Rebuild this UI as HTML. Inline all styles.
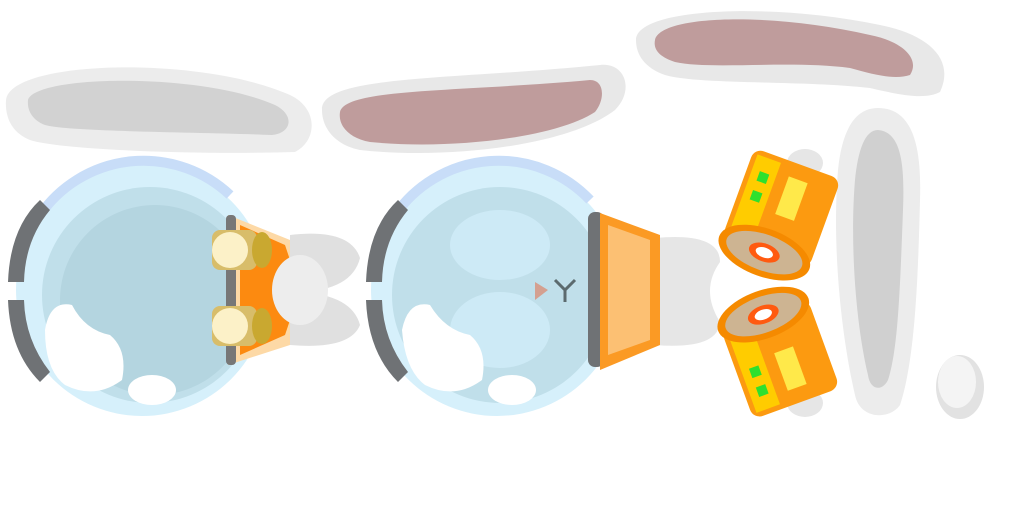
<!DOCTYPE html>
<html><head><meta charset="utf-8"><style>
html,body{margin:0;padding:0;background:#fff;width:1024px;height:512px;overflow:hidden}
svg{display:block}
</style></head><body>
<svg width="1024" height="512" viewBox="0 0 1024 512">
<g>
<path d="M6,100 C10,60 200,55 290,95 C318,108 318,140 295,152 C200,155 60,150 30,140 C10,132 5,115 6,100Z" fill="#ececec"/>
<path d="M28,100 C35,75 200,72 275,105 C295,115 292,133 272,135 C200,132 70,132 45,125 C32,120 27,110 28,100Z" fill="#d2d2d2"/>
</g>
<g>
<path d="M322,110 C320,75 450,80 600,65 C625,62 635,90 615,110 C570,145 450,160 360,150 C335,145 322,128 322,110Z" fill="#e8e8e8"/>
<path d="M340,112 C345,88 460,92 590,80 C605,80 605,100 595,112 C555,138 450,150 370,142 C348,138 338,125 340,112Z" fill="#bf9c9c"/>
</g>
<g>
<path d="M636,40 C636,8 770,2 880,25 C930,35 955,60 940,92 C925,100 900,95 870,88 C800,80 700,85 665,75 C645,68 636,55 636,40Z" fill="#e8e8e8"/>
<path d="M655,40 C660,15 770,12 870,35 C905,42 920,60 910,75 C895,80 875,75 850,68 C790,60 710,70 675,62 C660,57 653,50 655,40Z" fill="#bf9c9c"/>
</g>
<g>
<path d="M878,108 C910,108 922,140 920,200 C918,280 915,360 900,405 C890,420 860,420 855,395 C840,330 832,240 838,170 C842,130 855,108 878,108Z" fill="#ececec"/>
<path d="M878,130 C900,132 905,160 903,210 C900,290 898,350 888,380 C882,392 870,390 868,375 C855,320 850,240 855,180 C858,150 865,130 878,130Z" fill="#d0d0d0"/>
</g>
<ellipse cx="960" cy="387" rx="24" ry="32" fill="#e2e2e2"/>
<ellipse cx="957" cy="382" rx="19" ry="26" fill="#f4f4f4"/>
<g>
<circle cx="142" cy="290" r="126" fill="#d6f0fb"/>
<path d="M40,215 A126,126 0 0 1 230,195" stroke="#c8ddf8" stroke-width="10" fill="none"/>
<circle cx="150" cy="295" r="108" fill="#c0dfea"/>
<circle cx="155" cy="300" r="95" fill="#b4d5e0"/>
<path d="M45,330 Q50,300 72,305 Q85,330 110,335 Q128,350 122,380 Q95,400 65,385 Q45,370 45,330Z" fill="#fff"/>
<ellipse cx="152" cy="390" rx="24" ry="15" fill="#fff"/>
<path d="M8,282 Q10,228 40,200 L50,210 Q25,240 24,282Z" fill="#6f7275"/>
<path d="M8,300 Q10,352 40,382 L50,372 Q25,340 24,300Z" fill="#6f7275"/>
</g>
<g>
<path d="M290,235 Q350,228 360,258 Q352,290 300,292 Q352,295 360,325 Q350,350 290,345Z" fill="#e0e0e0"/>
<path d="M228,215 L290,240 L290,345 L228,365Z" fill="#fdd9a6"/>
<path d="M240,225 L285,245 L300,290 L285,335 L240,355Z" fill="#fc8a10"/>
<ellipse cx="300" cy="290" rx="28" ry="35" fill="#ededed"/>
<rect x="226" y="215" width="10" height="150" rx="4" fill="#777"/>
<rect x="212" y="230" width="45" height="40" rx="8" fill="#d8bd6a"/><ellipse cx="230" cy="250" rx="18" ry="18" fill="#fcf1c8"/><ellipse cx="262" cy="250" rx="10" ry="18" fill="#c9a830"/>
<rect x="212" y="306" width="45" height="40" rx="8" fill="#d8bd6a"/><ellipse cx="230" cy="326" rx="18" ry="18" fill="#fcf1c8"/><ellipse cx="262" cy="326" rx="10" ry="18" fill="#c9a830"/>
</g>
<g>
<circle cx="497" cy="290" r="126" fill="#d6f0fb"/>
<path d="M395,215 A126,126 0 0 1 590,200" stroke="#c8ddf8" stroke-width="10" fill="none"/>
<circle cx="500" cy="295" r="108" fill="#c0dfea"/>
<ellipse cx="500" cy="245" rx="50" ry="35" fill="#cdeaf6"/>
<ellipse cx="500" cy="330" rx="50" ry="38" fill="#cdeaf6"/>
<path d="M535,282 L548,290 L535,300Z" fill="#d4a090"/>
<path d="M555,280 L565,290 L575,280 M565,290 L565,302" stroke="#5b6a6e" stroke-width="3" fill="none"/>
<path d="M402,330 Q408,300 430,305 Q445,330 470,335 Q488,350 482,380 Q455,400 425,385 Q405,370 402,330Z" fill="#fff"/>
<ellipse cx="512" cy="390" rx="24" ry="15" fill="#fff"/>
<path d="M366,282 Q368,228 398,200 L408,210 Q383,240 382,282Z" fill="#6f7275"/>
<path d="M366,300 Q368,352 398,382 L408,372 Q383,340 382,300Z" fill="#6f7275"/>
<rect x="588" y="212" width="16" height="155" rx="7" fill="#6f7275"/>
</g>
<g>
<path d="M655,238 Q720,232 720,262 Q700,290 720,322 Q718,350 655,345Z" fill="#e6e6e6"/>
<path d="M600,213 L660,235 L660,345 L600,370Z" fill="#fb9a24"/>
<path d="M608,225 L650,240 L650,340 L608,355Z" fill="#fcc073"/>
</g>
<g>
<ellipse cx="805" cy="163" rx="18" ry="14" fill="#e6e6e6"/>
<g transform="rotate(20 778 215)">
<rect x="733" y="160" width="92" height="95" rx="10" fill="#fc9a10"/>
<rect x="738" y="165" width="25" height="85" fill="#ffcc00"/>
<rect x="775" y="175" width="20" height="40" fill="#ffe94a"/>
<rect x="746" y="180" width="10" height="10" fill="#2ee02e"/><rect x="746" y="200" width="10" height="10" fill="#2ee02e"/>
<ellipse cx="778" cy="255" rx="48" ry="24" fill="#f58a00"/>
<ellipse cx="778" cy="255" rx="40" ry="18" fill="#cdb492"/>
<ellipse cx="778" cy="255" rx="16" ry="9" fill="#ff5a10"/><ellipse cx="778" cy="255" rx="9" ry="5" fill="#fff"/>
</g></g>
<g>
<ellipse cx="805" cy="403" rx="18" ry="14" fill="#e6e6e6"/>
<g transform="rotate(-20 778 355)">
<rect x="733" y="312" width="92" height="95" rx="10" fill="#fc9a10"/>
<rect x="738" y="317" width="25" height="85" fill="#ffcc00"/>
<rect x="775" y="352" width="20" height="40" fill="#ffe94a"/>
<rect x="746" y="358" width="10" height="10" fill="#2ee02e"/><rect x="746" y="378" width="10" height="10" fill="#2ee02e"/>
<ellipse cx="778" cy="312" rx="48" ry="24" fill="#f58a00"/>
<ellipse cx="778" cy="312" rx="40" ry="18" fill="#cdb492"/>
<ellipse cx="778" cy="312" rx="16" ry="9" fill="#ff5a10"/><ellipse cx="778" cy="312" rx="9" ry="5" fill="#fff"/>
</g></g>
</svg>
</body></html>
